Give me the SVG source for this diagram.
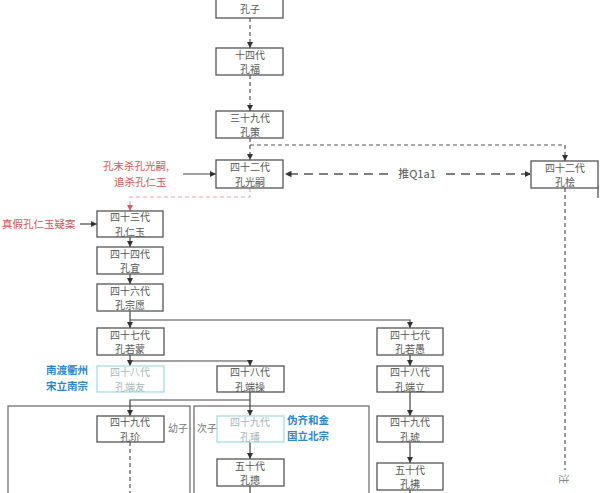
<svg xmlns="http://www.w3.org/2000/svg" width="600" height="493" viewBox="0 0 600 493">
<style>
.box{fill:#fff;stroke:#555;stroke-width:1.3}
.cbox{fill:#fff;stroke:#a8dde3;stroke-width:1.3}
.t{font-family:"Noto Sans CJK SC","Noto Sans",sans-serif;font-size:10px;fill:#555;text-anchor:middle}
.ct{font-family:"Noto Sans CJK SC","Noto Sans",sans-serif;font-size:10px;fill:#a6b6b8;text-anchor:middle}
.red{font-family:"Noto Sans CJK SC","Noto Sans",sans-serif;font-size:10.5px;fill:#c8565a}
.blue{font-family:"Noto Sans CJK SC","Noto Sans",sans-serif;font-size:10.5px;font-weight:bold;fill:#2f86c6}
.gray{font-family:"Noto Sans CJK SC","Noto Sans",sans-serif;font-size:10px;fill:#777}
.ln{fill:none;stroke:#444;stroke-width:1.2}
.dl{fill:none;stroke:#555;stroke-width:1.2;stroke-dasharray:4 3}
.ld{fill:none;stroke:#555;stroke-width:1.3;stroke-dasharray:9 6}
.rd{fill:none;stroke:#e2a8b0;stroke-width:1.2;stroke-dasharray:4 3}
.grp{fill:none;stroke:#666;stroke-width:1.2}
</style>
<defs>
<marker id="a" viewBox="0 0 10 10" refX="10" refY="5" markerWidth="5" markerHeight="5" orient="auto"><path d="M0,0L10,5L0,10z" fill="#333"/></marker>
<marker id="ar" viewBox="0 0 10 10" refX="10" refY="5" markerWidth="5" markerHeight="5" orient="auto"><path d="M0,0L10,5L0,10z" fill="#d0606a"/></marker>
</defs>
<rect width="600" height="493" fill="#fff"/>
<g id="groups">
<rect class="grp" x="8" y="406" width="182" height="100"/>
<rect class="grp" x="194" y="406" width="175" height="100"/>
</g>
<g id="connectors">
<path class="dl" d="M250,18V48" marker-end="url(#a)"/>
<path class="dl" d="M250,75V111" marker-end="url(#a)"/>
<path class="dl" d="M250,138V160" marker-end="url(#a)"/>
<path class="dl" d="M250,145H565V161" marker-end="url(#a)"/>
<path class="ld" d="M388,174H285" marker-end="url(#a)"/>
<path class="ld" d="M446,174H531" marker-end="url(#a)"/>
<path class="ln" d="M183,174H216" marker-end="url(#a)"/>
<path class="rd" d="M250,188V197H130V211" marker-end="url(#ar)"/>
<path class="ln" d="M80,224H97" marker-end="url(#a)"/>
<path class="ln" d="M130,237V247" marker-end="url(#a)"/>
<path class="ln" d="M130,274V284" marker-end="url(#a)"/>
<path class="ln" d="M130,311V328" marker-end="url(#a)"/>
<path class="ln" d="M130,320H410V328" marker-end="url(#a)"/>
<path class="ln" d="M130,355V366" marker-end="url(#a)"/>
<path class="ln" d="M130,361H250V366" marker-end="url(#a)"/>
<path class="ln" d="M410,355V366" marker-end="url(#a)"/>
<path class="ln" d="M410,392V416" marker-end="url(#a)"/>
<path class="ln" d="M410,442V463" marker-end="url(#a)"/>
<path class="ln" d="M410,490V493"/>
<path class="ln" d="M250,392V416" marker-end="url(#a)"/>
<path class="ln" d="M250,400H130V416" marker-end="url(#a)"/>
<path class="dl" d="M130,442V493"/>
<path class="ln" d="M250,442V459" marker-end="url(#a)"/>
<path class="ln" d="M250,486V493"/>
<path class="dl" d="M565,188V470"/>
<path class="ln" d="M598,186V198"/>
<text class="t" x="417" y="178" style="font-size:11px">推Q1a1</text>
</g>
<g id="n-kongzi"><rect class="box" x="216" y="-8" width="67" height="26"/><text class="t" x="250" y="13">孔子</text></g>
<g id="n-kongfu"><rect class="box" x="216" y="48" width="67" height="27"/><text class="t" y="58.5"><tspan x="250">十四代</tspan><tspan x="250" dy="14.5">孔福</tspan></text></g>
<g id="n-kongce"><rect class="box" x="216" y="111" width="67" height="27"/><text class="t" y="121.5"><tspan x="250">三十九代</tspan><tspan x="250" dy="14.5">孔策</tspan></text></g>
<g id="n-kongguangsi"><rect class="box" x="216" y="160" width="67" height="28"/><text class="t" y="171"><tspan x="250">四十二代</tspan><tspan x="250" dy="14.5">孔光嗣</tspan></text></g>
<g id="n-konggui"><rect class="box" x="531" y="161" width="67" height="27"/><text class="t" y="171.5"><tspan x="565">四十二代</tspan><tspan x="565" dy="14.5">孔桧</tspan></text></g>
<g id="n-kongrenyu"><rect class="box" x="97" y="211" width="66" height="26"/><text class="t" y="221"><tspan x="130">四十三代</tspan><tspan x="130" dy="14.5">孔仁玉</tspan></text></g>
<g id="n-kongyi"><rect class="box" x="97" y="247" width="66" height="27"/><text class="t" y="257.5"><tspan x="130">四十四代</tspan><tspan x="130" dy="14.5">孔宜</tspan></text></g>
<g id="n-kongzongyuan"><rect class="box" x="97" y="284" width="66" height="27"/><text class="t" y="294.5"><tspan x="130">四十六代</tspan><tspan x="130" dy="14.5">孔宗愿</tspan></text></g>
<g id="n-kongruomeng"><rect class="box" x="97" y="328" width="67" height="27"/><text class="t" y="338.5"><tspan x="130">四十七代</tspan><tspan x="130" dy="14.5">孔若蒙</tspan></text></g>
<g id="n-kongduanyou"><rect class="cbox" x="97" y="366" width="67" height="26"/><text class="ct" y="376"><tspan x="130">四十八代</tspan><tspan x="130" dy="14.5">孔端友</tspan></text></g>
<g id="n-kongduancao"><rect class="box" x="217" y="366" width="67" height="26"/><text class="t" y="376"><tspan x="250">四十八代</tspan><tspan x="250" dy="14.5">孔端操</tspan></text></g>
<g id="n-kongjie"><rect class="box" x="97" y="416" width="67" height="26"/><text class="t" y="426"><tspan x="130">四十九代</tspan><tspan x="130" dy="14.5">孔玠</tspan></text></g>
<g id="n-kongfan"><rect class="cbox" x="217" y="416" width="67" height="26"/><text class="ct" y="426"><tspan x="250">四十九代</tspan><tspan x="250" dy="14.5">孔璠</tspan></text></g>
<g id="n-kongzong"><rect class="box" x="217" y="459" width="67" height="27"/><text class="t" y="469.5"><tspan x="250">五十代</tspan><tspan x="250" dy="14.5">孔摠</tspan></text></g>
<g id="n-kongruoyu"><rect class="box" x="377" y="328" width="66" height="27"/><text class="t" y="338.5"><tspan x="410">四十七代</tspan><tspan x="410" dy="14.5">孔若愚</tspan></text></g>
<g id="n-kongduanli"><rect class="box" x="377" y="366" width="66" height="26"/><text class="t" y="376"><tspan x="410">四十八代</tspan><tspan x="410" dy="14.5">孔端立</tspan></text></g>
<g id="n-konghu"><rect class="box" x="377" y="416" width="66" height="26"/><text class="t" y="426"><tspan x="410">四十九代</tspan><tspan x="410" dy="14.5">孔琥</tspan></text></g>
<g id="n-kongfu50"><rect class="box" x="377" y="463" width="66" height="27"/><text class="t" y="473.5"><tspan x="410">五十代</tspan><tspan x="410" dy="14.5">孔拂</tspan></text></g>
<g id="labels">
<text class="red" y="170"><tspan x="103">孔末杀孔光嗣,</tspan><tspan x="114" dy="15.5">追杀孔仁玉</tspan></text>
<text class="red" x="2" y="228">真假孔仁玉疑案</text>
<text class="blue" y="374"><tspan x="46">南渡衢州</tspan><tspan x="46" dy="15.5">宋立南宗</tspan></text>
<text class="blue" y="424"><tspan x="287">伪齐和金</tspan><tspan x="287" dy="15.5">国立北宗</tspan></text>
<text class="gray" x="168" y="432">幼子</text>
<text class="gray" x="197" y="432">次子</text>
<text class="gray" transform="translate(560,474) rotate(90)">注</text>
</g>
</svg>
